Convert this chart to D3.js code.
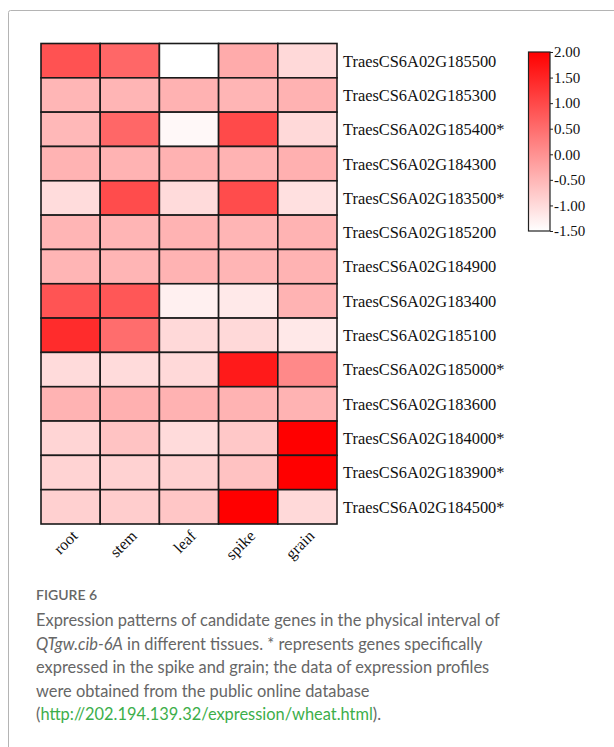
<!DOCTYPE html>
<html>
<head>
<meta charset="utf-8">
<script src="https://cdn.jsdelivr.net/npm/d3@7"></script>
<style>
  html, body { margin: 0; padding: 0; background: #fff; }
  svg { display: block; }
</style>
</head>
<body>
<svg id="fig" width="614" height="747"></svg>
<script>
// Tissues (columns) and genes (rows)
const tissues = ["root", "stem", "leaf", "spike", "grain"];
const genes = [
  "TraesCS6A02G185500", "TraesCS6A02G185300", "TraesCS6A02G185400*",
  "TraesCS6A02G184300", "TraesCS6A02G183500*", "TraesCS6A02G185200",
  "TraesCS6A02G184900", "TraesCS6A02G183400", "TraesCS6A02G185100",
  "TraesCS6A02G185000*", "TraesCS6A02G183600", "TraesCS6A02G184000*",
  "TraesCS6A02G183900*", "TraesCS6A02G184500*"
];
// Scaled expression per gene, in tissue order root, stem, leaf, spike, grain
const expr185500 = [0.88, 0.58, -1.50, -0.35, -0.98];
const expr185300 = [-0.50, -0.48, -0.44, -0.48, -0.44];
const expr185400 = [-0.52, 0.58, -1.40, 0.98, -0.98];
const expr184300 = [-0.46, -0.46, -0.44, -0.46, -0.42];
const expr183500 = [-1.02, 0.95, -1.00, 0.95, -1.08];
const expr185200 = [-0.48, -0.48, -0.46, -0.48, -0.46];
const expr184900 = [-0.48, -0.48, -0.46, -0.48, -0.46];
const expr183400 = [0.85, 0.80, -1.30, -1.20, -0.46];
const expr185100 = [1.40, 0.50, -0.98, -0.98, -1.18];
const expr185000 = [-1.00, -1.00, -0.98, 1.65, 0.12];
const expr183600 = [-0.46, -0.42, -0.44, -0.46, -0.46];
const expr184000 = [-0.92, -0.68, -1.00, -0.75, 2.00];
const expr183900 = [-0.90, -0.88, -0.86, -0.66, 2.00];
const expr184500 = [-0.85, -0.82, -0.72, 2.00, -0.98];
const values = [expr185500, expr185300, expr185400, expr184300, expr183500,
  expr185200, expr184900, expr183400, expr185100, expr185000, expr183600,
  expr184000, expr183900, expr184500];
// Colour bar ticks
const legendTicks = [2.0, 1.5, 1.0, 0.5, 0.0, -0.5, -1.0, -1.5];

// Caption
const captionHead = "FIGURE 6";

const svg = d3.select("#fig");

// outer panel frame
svg.append("rect")
  .attr("x", 8.5).attr("y", 10.5)
  .attr("width", 700).attr("height", 800)
  .attr("rx", 2)
  .attr("fill", "none").attr("stroke", "#b4b4b4").attr("stroke-width", 1);

const gridLeft = 41, gridRight = 337, gridTop = 43.5, gridBottom = 524;

const x = d3.scaleBand().domain(tissues).range([gridLeft, gridRight]);
const y = d3.scaleBand().domain(genes).range([gridTop, gridBottom]);
const color = d3.scaleLinear().domain([-1.5, 2.0]).range(["#ffffff", "#ff0000"]).clamp(true);

const cells = [];
genes.forEach((g, i) => tissues.forEach((t, j) => cells.push({ gene: g, tissue: t, v: values[i][j] })));

const heat = svg.append("g");
heat.selectAll("rect.cell")
  .data(cells)
  .join("rect")
  .attr("class", "cell")
  .attr("x", d => x(d.tissue))
  .attr("y", d => y(d.gene))
  .attr("width", x.bandwidth())
  .attr("height", y.bandwidth())
  .attr("fill", d => color(d.v))
  .attr("stroke", "#1a1a1a")
  .attr("stroke-width", 1.6);

const serif = "'Liberation Serif', 'Times New Roman', serif";

// gene labels on the right
svg.append("g").selectAll("text")
  .data(genes)
  .join("text")
  .attr("x", 343)
  .attr("y", d => y(d) + y.bandwidth() / 2)
  .attr("dy", "0.36em")
  .attr("font-family", serif)
  .attr("font-size", 16.4)
  .attr("fill", "#111")
  .text(d => d);

// tissue labels, rotated
svg.append("g").selectAll("text")
  .data(tissues)
  .join("text")
  .attr("transform", d => `translate(${x(d) + x.bandwidth() / 2 + 4},${gridBottom + 9}) rotate(-45)`)
  .attr("text-anchor", "end")
  .attr("dy", "0.35em")
  .attr("font-family", serif)
  .attr("font-size", 16)
  .attr("fill", "#111")
  .text(d => d);

// colour bar
const barX = 528.5, barW = 21.5, barTop = 52, barBottom = 231;
const ly = d3.scaleLinear().domain([-1.5, 2.0]).range([barBottom, barTop]);
const defs = svg.append("defs");
const grad = defs.append("linearGradient")
  .attr("id", "cbar").attr("x1", 0).attr("y1", 1).attr("x2", 0).attr("y2", 0);
grad.selectAll("stop")
  .data([-1.5, 2.0])
  .join("stop")
  .attr("offset", (d, i) => i)
  .attr("stop-color", d => color(d));
svg.append("rect")
  .attr("x", barX).attr("y", barTop)
  .attr("width", barW).attr("height", barBottom - barTop)
  .attr("fill", "url(#cbar)")
  .attr("stroke", "#222").attr("stroke-width", 1.2);

const fmt2 = d3.format(".2f");
const lAxis = d3.axisRight(ly)
  .tickValues(legendTicks)
  .tickSize(3)
  .tickPadding(1)
  .tickFormat(d => fmt2(d).replace("\u2212", "-"));
const lg = svg.append("g").attr("transform", `translate(${barX + barW},0)`).call(lAxis);
lg.select(".domain").remove();
lg.selectAll(".tick line").attr("stroke", "#222");
lg.selectAll(".tick text")
  .attr("font-family", serif)
  .attr("font-size", 15)
  .attr("fill", "#111");

// caption
const cap = svg.append("g").attr("font-family", "Lato, 'Open Sans', sans-serif");
cap.append("text")
  .attr("x", 36).attr("y", 600)
  .attr("font-size", 14).attr("font-weight", 600).attr("fill", "#666")
  .text(captionHead);

const capColor = "#666";
const lines = [
  [{ t: "Expression patterns of candidate genes in the physical interval of" }],
  [{ t: "QTgw.cib-6A", i: true }, { t: " in different tissues. * represents genes specifically" }],
  [{ t: "expressed in the spike and grain; the data of expression profiles" }],
  [{ t: "were obtained from the public online database" }],
  [{ t: "(" }, { t: "http://202.194.139.32/expression/wheat.html", c: "#3cae4a" }, { t: ")." }]
];
const lineY0 = 626, lineGap = 23.6;
lines.forEach((parts, k) => {
  const tx = cap.append("text")
    .attr("x", 36).attr("y", lineY0 + k * lineGap)
    .attr("font-size", 16.4).attr("fill", capColor);
  parts.forEach(p => {
    tx.append("tspan")
      .attr("font-style", p.i ? "italic" : null)
      .attr("fill", p.c || capColor)
      .text(p.t);
  });
});
</script>
</body>
</html>
